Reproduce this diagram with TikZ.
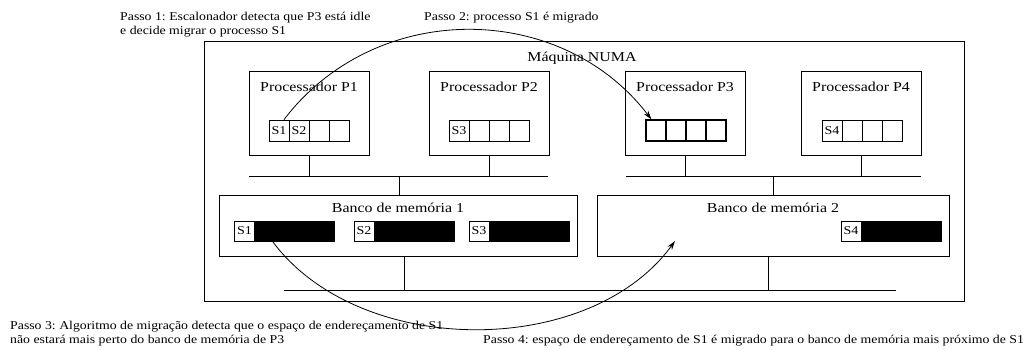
\documentclass[tikz,border=0pt]{standalone}
\usepackage{fontspec}
\setmainfont{Liberation Serif}
\usepackage{graphicx}
\usetikzlibrary{arrows.meta}
\frenchspacing
\newcommand{\hs}[1]{\scalebox{1.17}[1]{#1}}
\newcommand{\hstep}[1]{\scalebox{1.15}[1]{#1}}
\newcommand{\smalltxt}{\fontsize{12}{14}\selectfont}
\newcommand{\bigtxt}{\fontsize{13.6}{16}\selectfont}
\begin{document}
\begin{tikzpicture}[x=1pt,y=-1pt,
  box/.style={draw,line width=0.8pt,inner sep=0pt,rectangle},
  cell/.style={draw,line width=0.8pt,inner sep=0pt,minimum width=20pt,minimum height=21pt,font=\smalltxt},
  cellthick/.style={cell,line width=1.2pt},
  memlbl/.style={draw,line width=0.8pt,fill=white,inner sep=0pt,minimum width=20pt,minimum height=20pt,font=\smalltxt},
  memblk/.style={draw,line width=0.8pt,fill=black,inner sep=0pt,minimum width=80pt,minimum height=20pt},
  lbl/.style={inner sep=0pt,anchor=base,font=\bigtxt},
  steptxt/.style={inner sep=0pt,anchor=base west,font=\smalltxt},
  wire/.style={line width=0.8pt},
  mig/.style={line width=0.8pt,-{Stealth[length=9pt,width=5.5pt]}}
]
\useasboundingbox (0,0) rectangle (1033,350);

% outer machine
\node[box,minimum width=760pt,minimum height=260pt] (numa) at (584,171) {};
\node[lbl] (numalbl) at (582,62) {\hs{Máquina NUMA}};

% processors
\node[box,minimum width=120pt,minimum height=84pt] (P1) at (309,113) {};
\node[box,minimum width=120pt,minimum height=84pt] (P2) at (489,113) {};
\node[box,minimum width=120pt,minimum height=84pt] (P3) at (685,113) {};
\node[box,minimum width=120pt,minimum height=84pt] (P4) at (861,113) {};
\node[lbl] (lP1) at (309,92) {\hs{Processador P1}};
\node[lbl] (lP2) at (489,92) {\hs{Processador P2}};
\node[lbl] (lP3) at (685,92) {\hs{Processador P3}};
\node[lbl] (lP4) at (861,92) {\hs{Processador P4}};

% run queues
\node[cell] (q1a) at (279,130.5) {\hs{S1}};
\node[cell] (q1b) at (299,130.5) {\hs{S2}};
\node[cell] (q1c) at (319,130.5) {};
\node[cell] (q1d) at (339,130.5) {};
\node[cell] (q2a) at (459,130.5) {\hs{S3}};
\node[cell] (q2b) at (479,130.5) {};
\node[cell] (q2c) at (499,130.5) {};
\node[cell] (q2d) at (519,130.5) {};
\node[cellthick] (q3a) at (656,130.5) {};
\node[cellthick] (q3b) at (676,130.5) {};
\node[cellthick] (q3c) at (696,130.5) {};
\node[cellthick] (q3d) at (716,130.5) {};
\node[cell] (q4a) at (832,130.5) {\hs{S4}};
\node[cell] (q4b) at (852,130.5) {};
\node[cell] (q4c) at (872,130.5) {};
\node[cell] (q4d) at (892,130.5) {};

% memory banks
\node[box,minimum width=358pt,minimum height=61pt] (bank1) at (398,225.5) {};
\node[box,minimum width=352pt,minimum height=61pt] (bank2) at (773,225.5) {};
\node[lbl] (lb1) at (398,212) {\hs{Banco de memória 1}};
\node[lbl] (lb2) at (773,212) {\hs{Banco de memória 2}};

\node[memblk] (m1) at (294.5,231) {};
\node[memlbl] (s1) at (244.5,231) {\hs{S1}};
\node[memblk] (m2) at (414,231) {};
\node[memlbl] (s2) at (364,231) {\hs{S2}};
\node[memblk] (m3) at (529,231) {};
\node[memlbl] (s3) at (479,231) {\hs{S3}};
\node[memblk] (m4) at (901,231) {};
\node[memlbl] (s4) at (851,231) {\hs{S4}};

% buses
\coordinate (busTL1) at (249,176);
\coordinate (busTL2) at (548,176);
\coordinate (busTR1) at (626,176);
\coordinate (busTR2) at (921,176);
\coordinate (busB1) at (284,290);
\coordinate (busB2) at (896,290);
\draw[wire] (busTL1) -- (busTL2);
\draw[wire] (busTR1) -- (busTR2);
\draw[wire] (busB1) -- (busB2);
\draw[wire] (P1.south) -- (P1.south |- busTL1);
\draw[wire] (P2.south) -- (P2.south |- busTL1);
\draw[wire] (P3.south) -- (P3.south |- busTR1);
\draw[wire] (P4.south) -- (P4.south |- busTR1);
\draw[wire] ([xshift=1pt]bank1.north) -- ([xshift=1pt]bank1.north |- busTL1);
\draw[wire] (bank2.north) -- (bank2.north |- busTR1);
\draw[wire] ([xshift=6pt]bank1.south) -- ([xshift=6pt]bank1.south |- busB1);
\draw[wire] ([xshift=-5pt]bank2.south) -- ([xshift=-5pt]bank2.south |- busB1);

% migration arrows
\coordinate (a1s) at ([xshift=5pt]q1a.north);
\coordinate (a1e) at ([xshift=6pt]q3a.north west);
\draw[mig] (a1s) .. controls (376,-1) and (561,1) .. (a1e);
\coordinate (a2s) at ([xshift=-22pt]m1.south);
\coordinate (a2e) at (675,241);
\draw[mig] (a2s) .. controls (359,358) and (589,359) .. (a2e);

% step texts
\node[steptxt] (st1a) at (120,21) {\hstep{Passo 1: Escalonador detecta que P3 está idle}};
\node[steptxt] (st1b) at (120,35) {\hstep{e decide migrar o processo S1}};
\node[steptxt] (st2) at (424,21) {\hstep{Passo 2: processo S1 é migrado}};
\node[steptxt] (st3a) at (10,329) {\hstep{Passo 3: Algoritmo de migração detecta que o espaço de endereçamento de S1}};
\node[steptxt] (st3b) at (10,343) {\hstep{não estará mais perto do banco de memória de P3}};
\node[steptxt] (st4) at (483,343) {\hstep{Passo 4: espaço de endereçamento de S1 é migrado para o banco de memória mais próximo de S1}};
\end{tikzpicture}
\end{document}
